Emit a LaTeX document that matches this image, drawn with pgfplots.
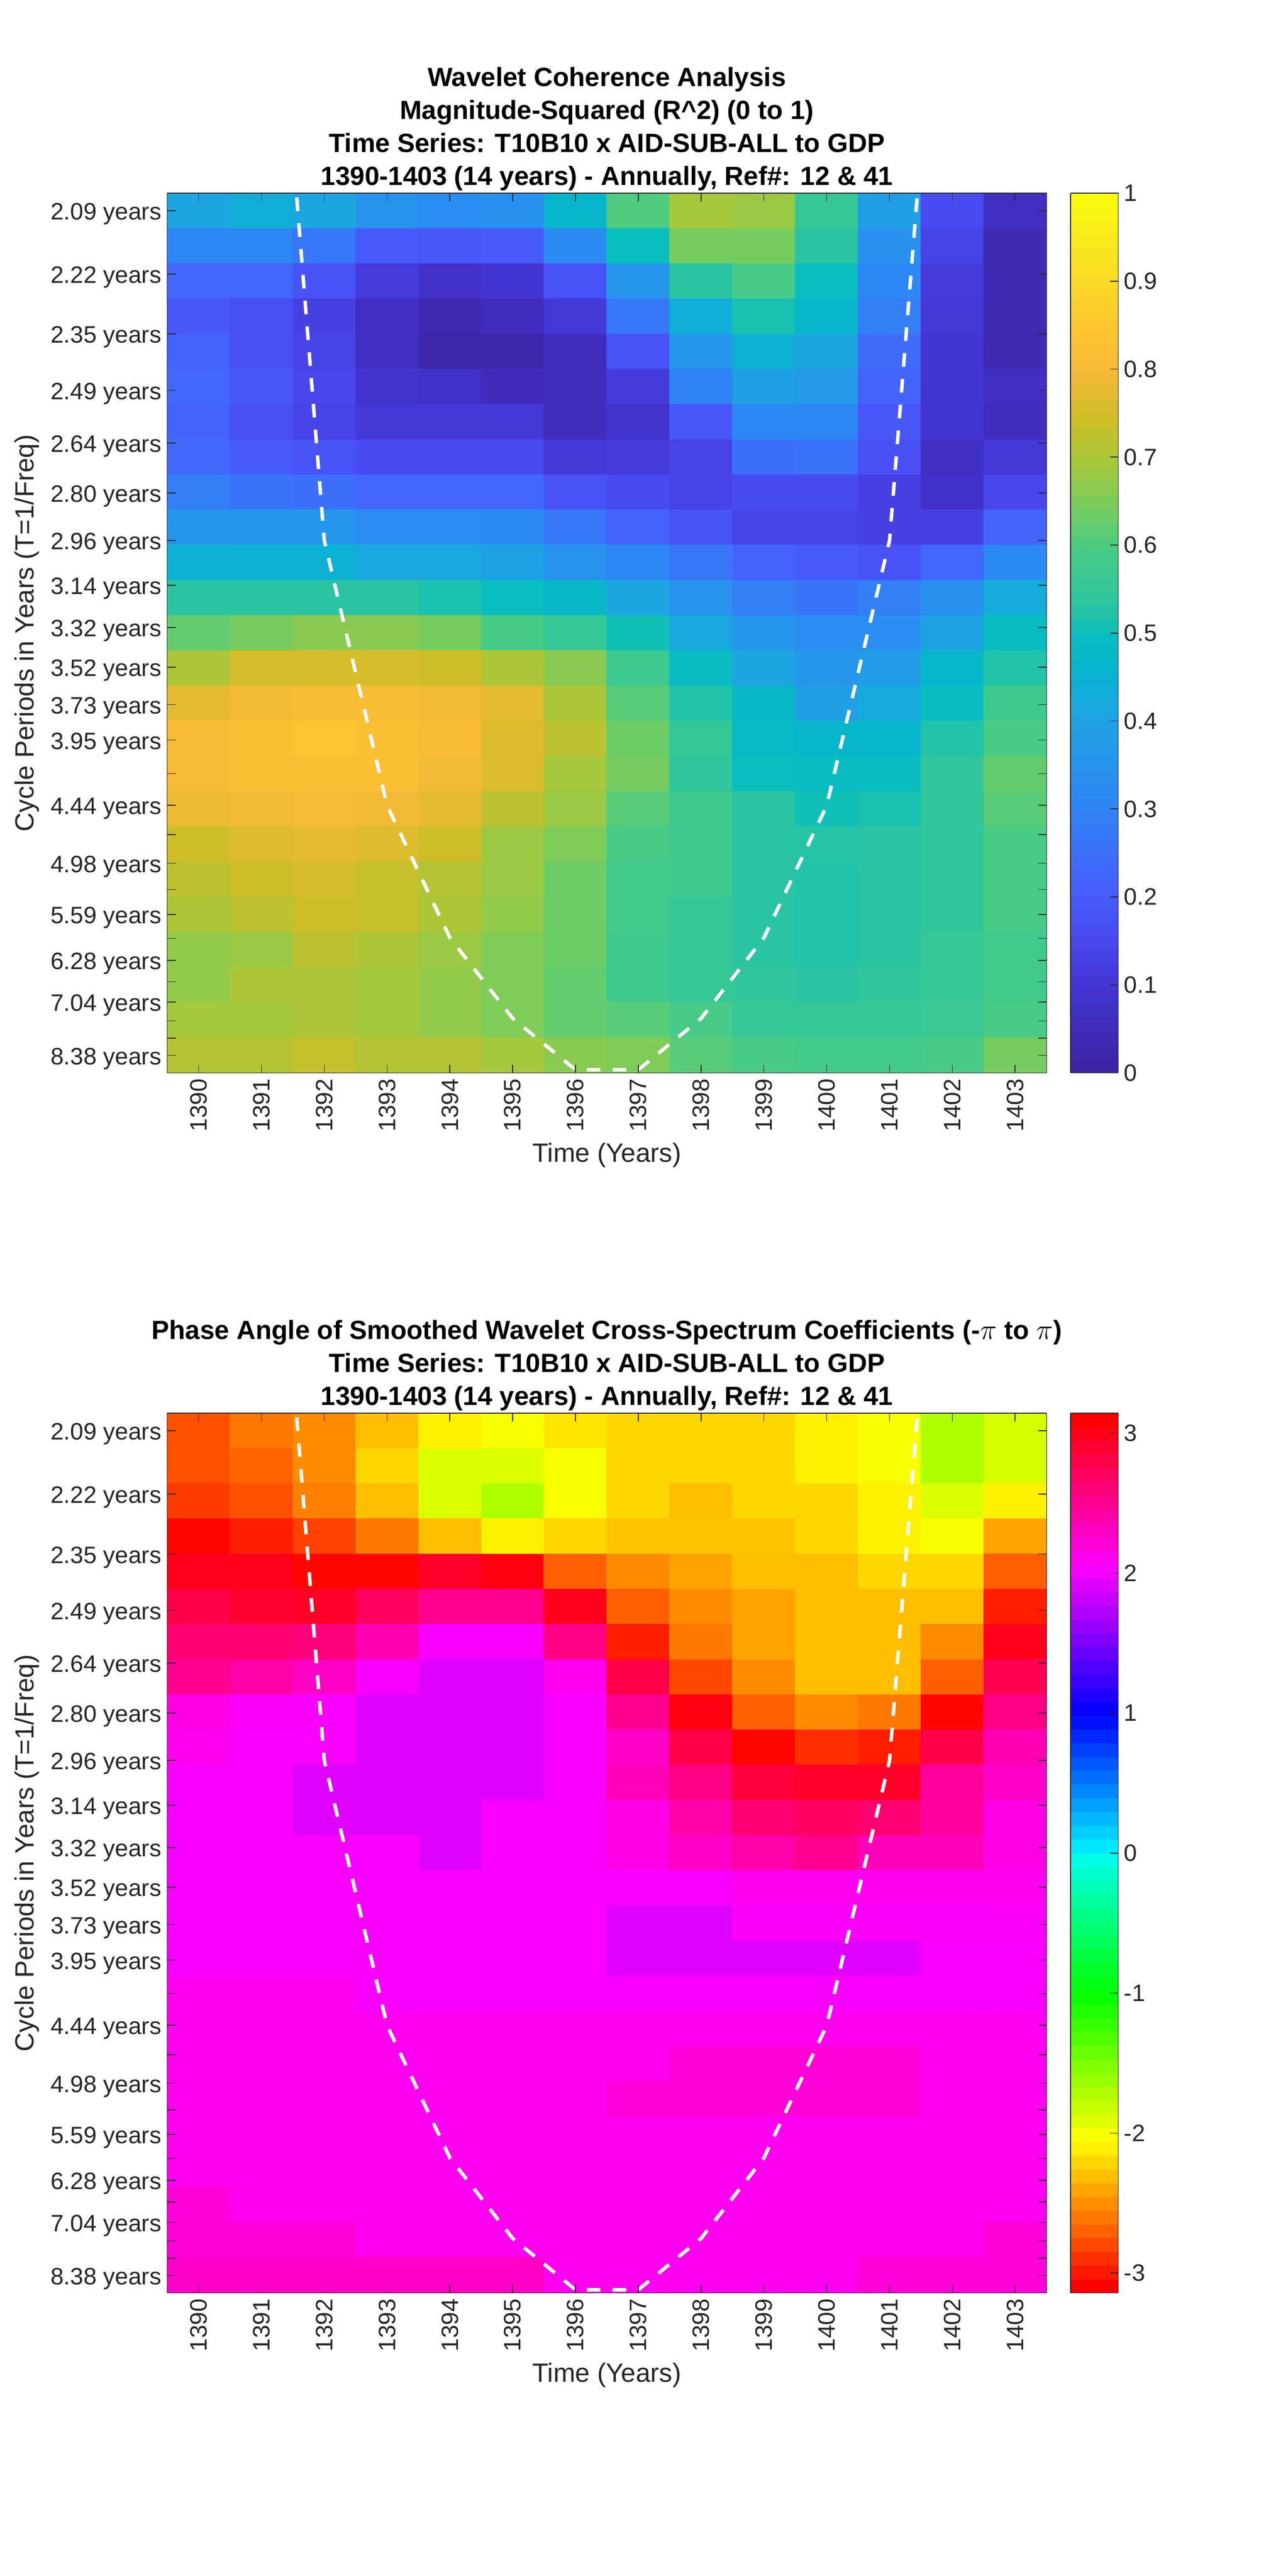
\documentclass[border=0pt]{standalone}
\usepackage{fontspec}
\setmainfont{Liberation Sans}
\usepackage{pgfplots}
\usepackage{pgfplotstable}
\pgfplotsset{compat=1.18}

\definecolor{axgray}{gray}{0.15}

% coherence, one line per period row, 1390..1403
\pgfplotstableread[header=false,row sep=\\]{
0.40\\0.43\\0.40\\0.34\\0.32\\0.33\\0.46\\0.61\\0.70\\0.69\\0.56\\0.38\\0.15\\0.06\\
0.30\\0.30\\0.26\\0.19\\0.18\\0.19\\0.31\\0.50\\0.65\\0.65\\0.54\\0.33\\0.13\\0.03\\
0.22\\0.22\\0.17\\0.11\\0.07\\0.09\\0.17\\0.35\\0.54\\0.60\\0.50\\0.30\\0.11\\0.03\\
0.18\\0.16\\0.12\\0.06\\0.02\\0.05\\0.10\\0.26\\0.43\\0.52\\0.46\\0.28\\0.10\\0.03\\
0.21\\0.16\\0.13\\0.06\\0.01\\0.01\\0.05\\0.17\\0.35\\0.44\\0.40\\0.23\\0.09\\0.03\\
0.22\\0.18\\0.14\\0.08\\0.07\\0.04\\0.05\\0.11\\0.29\\0.38\\0.36\\0.21\\0.09\\0.06\\
0.21\\0.16\\0.13\\0.10\\0.10\\0.10\\0.05\\0.08\\0.18\\0.30\\0.30\\0.18\\0.09\\0.05\\
0.22\\0.19\\0.17\\0.15\\0.15\\0.15\\0.10\\0.11\\0.13\\0.24\\0.25\\0.16\\0.06\\0.10\\
0.28\\0.25\\0.24\\0.22\\0.22\\0.22\\0.17\\0.15\\0.13\\0.15\\0.15\\0.12\\0.07\\0.14\\
0.35\\0.35\\0.35\\0.32\\0.32\\0.31\\0.26\\0.21\\0.17\\0.13\\0.13\\0.12\\0.12\\0.21\\
0.44\\0.44\\0.44\\0.41\\0.41\\0.39\\0.34\\0.30\\0.26\\0.21\\0.19\\0.17\\0.22\\0.31\\
0.54\\0.54\\0.54\\0.54\\0.52\\0.50\\0.47\\0.40\\0.34\\0.28\\0.25\\0.28\\0.33\\0.42\\
0.63\\0.65\\0.67\\0.67\\0.65\\0.60\\0.56\\0.51\\0.41\\0.35\\0.32\\0.32\\0.39\\0.49\\
0.71\\0.76\\0.76\\0.76\\0.75\\0.71\\0.67\\0.58\\0.49\\0.40\\0.35\\0.37\\0.46\\0.53\\
0.78\\0.80\\0.82\\0.82\\0.80\\0.78\\0.71\\0.62\\0.53\\0.47\\0.38\\0.42\\0.49\\0.58\\
0.81\\0.83\\0.85\\0.83\\0.82\\0.77\\0.73\\0.64\\0.56\\0.48\\0.46\\0.46\\0.53\\0.60\\
0.81\\0.83\\0.83\\0.83\\0.80\\0.77\\0.70\\0.65\\0.55\\0.50\\0.49\\0.49\\0.55\\0.63\\
0.79\\0.80\\0.81\\0.80\\0.78\\0.73\\0.69\\0.62\\0.58\\0.54\\0.51\\0.52\\0.55\\0.62\\
0.75\\0.77\\0.78\\0.77\\0.75\\0.69\\0.66\\0.60\\0.58\\0.54\\0.535\\0.54\\0.55\\0.60\\
0.73\\0.75\\0.76\\0.74\\0.72\\0.69\\0.64\\0.59\\0.58\\0.54\\0.53\\0.54\\0.55\\0.60\\
0.71\\0.73\\0.75\\0.74\\0.71\\0.68\\0.64\\0.59\\0.56\\0.54\\0.53\\0.54\\0.55\\0.60\\
0.68\\0.69\\0.73\\0.71\\0.69\\0.66\\0.64\\0.58\\0.56\\0.54\\0.53\\0.54\\0.56\\0.59\\
0.68\\0.71\\0.71\\0.70\\0.68\\0.66\\0.63\\0.58\\0.56\\0.55\\0.54\\0.55\\0.56\\0.59\\
0.70\\0.70\\0.71\\0.70\\0.68\\0.66\\0.63\\0.62\\0.60\\0.56\\0.56\\0.56\\0.57\\0.60\\
0.72\\0.72\\0.74\\0.72\\0.72\\0.70\\0.67\\0.66\\0.62\\0.60\\0.59\\0.59\\0.60\\0.65\\
}\tabcoh

% phase angle
\pgfplotstableread[header=false,row sep=\\]{
-2.81\\-2.65\\-2.57\\-2.36\\-2.15\\-2.06\\-2.20\\-2.26\\-2.26\\-2.26\\-2.15\\-2.06\\-1.76\\-1.92\\
-2.81\\-2.73\\-2.57\\-2.26\\-1.95\\-1.95\\-2.06\\-2.26\\-2.26\\-2.26\\-2.15\\-2.06\\-1.76\\-1.92\\
-2.90\\-2.81\\-2.62\\-2.36\\-1.95\\-1.76\\-2.06\\-2.26\\-2.36\\-2.26\\-2.26\\-2.15\\-1.95\\-2.15\\
-3.12\\-3.02\\-2.87\\-2.65\\-2.36\\-2.15\\-2.26\\-2.34\\-2.34\\-2.34\\-2.26\\-2.15\\-2.06\\-2.47\\
3.03\\3.03\\-3.12\\-3.12\\2.98\\3.08\\-2.75\\-2.57\\-2.47\\-2.36\\-2.36\\-2.26\\-2.26\\-2.75\\
2.85\\2.95\\2.98\\2.76\\2.55\\2.55\\3.03\\-2.75\\-2.57\\-2.47\\-2.36\\-2.36\\-2.36\\-3.02\\
2.68\\2.68\\2.64\\2.41\\2.07\\2.07\\2.60\\-3.02\\-2.65\\-2.47\\-2.36\\-2.36\\-2.57\\3.03\\
2.55\\2.45\\2.33\\2.07\\1.97\\1.97\\2.16\\2.85\\-2.85\\-2.57\\-2.36\\-2.36\\-2.75\\2.81\\
2.20\\2.11\\2.07\\1.97\\1.97\\1.97\\2.07\\2.55\\3.08\\-2.75\\-2.57\\-2.65\\-3.12\\2.60\\
2.16\\2.07\\2.07\\1.97\\1.97\\1.97\\2.07\\2.33\\2.85\\-3.12\\-2.95\\-3.02\\2.85\\2.41\\
2.07\\2.07\\1.97\\1.97\\1.97\\1.97\\2.07\\2.38\\2.60\\2.90\\2.98\\2.98\\2.50\\2.33\\
2.07\\2.07\\1.97\\1.97\\1.97\\2.07\\2.07\\2.20\\2.45\\2.68\\2.76\\2.68\\2.50\\2.20\\
2.07\\2.07\\2.07\\2.07\\1.97\\2.07\\2.07\\2.20\\2.33\\2.45\\2.55\\2.38\\2.38\\2.20\\
2.07\\2.07\\2.07\\2.07\\2.07\\2.07\\2.07\\2.07\\2.07\\2.16\\2.16\\2.16\\2.16\\2.16\\
2.07\\2.07\\2.07\\2.07\\2.07\\2.07\\2.07\\1.97\\1.97\\2.11\\2.11\\2.11\\2.11\\2.11\\
2.07\\2.07\\2.07\\2.07\\2.07\\2.07\\2.07\\1.97\\1.97\\1.97\\1.97\\1.97\\2.07\\2.07\\
2.16\\2.16\\2.16\\2.07\\2.07\\2.07\\2.07\\2.07\\2.07\\2.07\\2.07\\2.07\\2.07\\2.07\\
2.16\\2.16\\2.16\\2.16\\2.16\\2.16\\2.16\\2.16\\2.16\\2.16\\2.16\\2.16\\2.16\\2.16\\
2.16\\2.16\\2.16\\2.16\\2.16\\2.16\\2.16\\2.16\\2.26\\2.26\\2.26\\2.26\\2.16\\2.16\\
2.16\\2.16\\2.16\\2.16\\2.16\\2.16\\2.16\\2.26\\2.26\\2.26\\2.26\\2.26\\2.16\\2.16\\
2.16\\2.16\\2.16\\2.16\\2.16\\2.16\\2.16\\2.16\\2.16\\2.16\\2.16\\2.16\\2.16\\2.16\\
2.16\\2.16\\2.16\\2.16\\2.16\\2.16\\2.16\\2.16\\2.16\\2.16\\2.16\\2.16\\2.16\\2.16\\
2.26\\2.16\\2.16\\2.16\\2.16\\2.16\\2.16\\2.16\\2.16\\2.16\\2.16\\2.16\\2.16\\2.16\\
2.26\\2.26\\2.26\\2.16\\2.16\\2.16\\2.16\\2.16\\2.16\\2.16\\2.16\\2.16\\2.16\\2.26\\
2.33\\2.33\\2.33\\2.33\\2.33\\2.33\\2.16\\2.16\\2.16\\2.16\\2.16\\2.26\\2.26\\2.26\\
}\tabphase

\pgfplotsset{
  colormap={cohbase}{
    rgb255(0)=(61,36,165) rgb255(10)=(68,55,215) rgb255(15)=(72,75,242)
    rgb255(20)=(70,95,252) rgb255(30)=(45,135,245) rgb255(40)=(30,165,225)
    rgb255(45)=(8,180,208) rgb255(50)=(8,190,190) rgb255(55)=(50,198,155)
    rgb255(60)=(70,203,135) rgb255(65)=(118,205,95) rgb255(70)=(165,200,60)
    rgb255(75)=(205,190,40) rgb255(80)=(245,185,55) rgb255(85)=(255,195,50)
    rgb255(90)=(250,215,40) rgb255(100)=(250,250,15)},
  colormap={phasebase}{
    rgb255(0)=(255,0,0) rgb255(1)=(255,255,0) rgb255(2)=(0,255,0)
    rgb255(3)=(0,255,255) rgb255(4)=(0,0,255) rgb255(5)=(255,0,255)
    rgb255(6)=(255,0,0)},
  colormap={coh64}{samples of colormap=(65 of cohbase)},
  colormap={phase64}{samples of colormap=(65 of phasebase)},
  wave/.style={
    scale only axis,
    width=533.5pt, height=533.75pt,
    enlargelimits=false,
    xmin=1389.5, xmax=1403.5,
    ymin=0.5, ymax=25.5,
    y dir=reverse,
    axis on top,
    axis line style={color=axgray, line width=0.5pt},
    tick style={color=axgray, line width=0.5pt},
    major tick length=5pt,
    tick align=inside,
    xtick={1390,...,1403},
    xticklabels={1390,1391,1392,1393,1394,1395,1396,1397,1398,1399,1400,1401,1402,1403},
    ytick={1.00,2.80,4.50,6.10,7.60,9.02,10.37,11.64,12.84,13.97,15.03,16.04,16.99,17.89,18.73,19.54,20.29,21.00,21.68,22.30,22.91,23.49,24.02,24.51,25.00},
    yticklabels={2.09 years,2.22 years,2.35 years,2.49 years,2.64 years,2.80 years,2.96 years,3.14 years,3.32 years,3.52 years,3.73 years,3.95 years,{},4.44 years,{},4.98 years,{},5.59 years,{},6.28 years,{},7.04 years,{},{},8.38 years},
    tick label style={font=\fontsize{14.4}{17}\selectfont, color=axgray},
    xticklabel style={rotate=90, anchor=east},
    yticklabel style={yshift=-2pt},
    xlabel={Time (Years)},
    ylabel={Cycle Periods in Years (T=1/Freq)},
    label style={font=\fontsize{16}{19}\selectfont, color=axgray},
    title style={font=\fontsize{16}{20}\selectfont\bfseries, align=center, color=black, yshift=-8pt},
  },
  barstyle/.style={
    colorbar sampled,
    colorbar style={
      samples=65,
      colormap access=piecewise constant,
      at={(parent axis.south east)}, anchor=south west, xshift=6pt,
      width=29pt, height=533.75pt,
      axis line style={color=axgray, line width=0.5pt},
      ytick pos=right, yticklabel pos=right,
      ytick align=inside,
      major tick length=5pt,
      tick label style={font=\fontsize{14.4}{17}\selectfont, color=axgray},
      yticklabel style={yshift=0pt},
      #1},
  },
}

\begin{document}
\begin{tikzpicture}
\path[use as bounding box] (0,0) rectangle (781.25pt,1563pt);

\begin{axis}[
  wave,
  at={(101.5pt,912pt)}, anchor=south west,
  title={Wavelet Coherence Analysis\\Magnitude-Squared (R\textasciicircum 2) (0 to 1)\\Time Series: T10B10 x AID-SUB-ALL to GDP\\1390-1403 (14 years) - Annually, Ref\#: 12 \& 41},
  colormap name=coh64,
  point meta min=0, point meta max=1,
  colorbar,
  barstyle={ytick={0,0.1,0.2,0.3,0.4,0.5,0.6,0.7,0.8,0.9,1},
    yticklabels={0,0.1,0.2,0.3,0.4,0.5,0.6,0.7,0.8,0.9,1}},
]
\addplot[matrix plot*, mesh/cols=14, point meta=explicit]
  table[x index=0, y index=0, x expr={1390+mod(\coordindex,14)}, y expr={1+floor((\coordindex+0.5)/14)}, meta index=0] {\tabcoh};
\addplot[white, line width=2.1pt, dash pattern=on 8.3pt off 7.4pt, forget plot] coordinates {
  (1391,-11.84) (1392,10.37) (1393,17.90) (1394,21.66) (1395,23.95) (1396,25.41)
  (1397,25.41) (1398,23.95) (1399,21.66) (1400,17.90) (1401,10.37) (1402,-11.84)};
\end{axis}

\begin{axis}[
  wave,
  at={(101.5pt,171.75pt)}, anchor=south west,
  title={Phase Angle of Smoothed Wavelet Cross-Spectrum Coefficients (-$\pi$ to $\pi$)\\Time Series: T10B10 x AID-SUB-ALL to GDP\\1390-1403 (14 years) - Annually, Ref\#: 12 \& 41},
  colormap name=phase64,
  point meta min=-3.14159, point meta max=3.14159,
  colorbar,
  barstyle={ytick={-3,-2,-1,0,1,2,3}, yticklabels={-3,-2,-1,0,1,2,3}},
]
\addplot[matrix plot*, mesh/cols=14, point meta=explicit]
  table[x index=0, y index=0, x expr={1390+mod(\coordindex,14)}, y expr={1+floor((\coordindex+0.5)/14)}, meta index=0] {\tabphase};
\addplot[white, line width=2.1pt, dash pattern=on 8.3pt off 7.4pt, forget plot] coordinates {
  (1391,-11.84) (1392,10.37) (1393,17.90) (1394,21.66) (1395,23.95) (1396,25.41)
  (1397,25.41) (1398,23.95) (1399,21.66) (1400,17.90) (1401,10.37) (1402,-11.84)};
\end{axis}
\end{tikzpicture}
\end{document}
